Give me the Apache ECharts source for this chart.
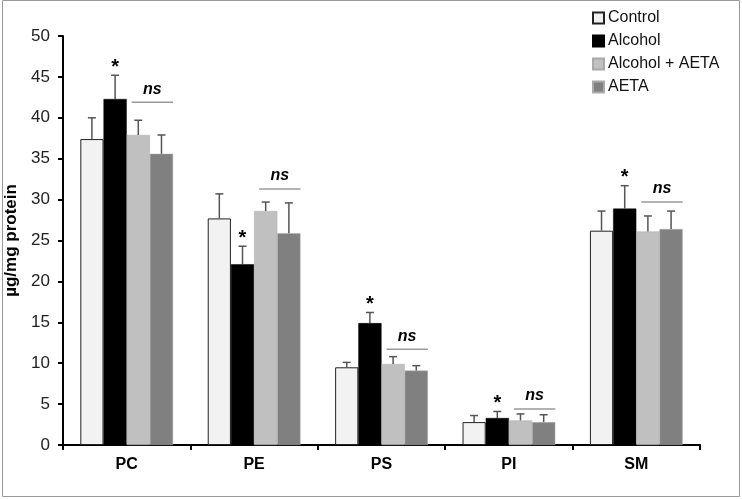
<!DOCTYPE html>
<html><head><meta charset="utf-8">
<script src="https://cdn.jsdelivr.net/npm/echarts@6/dist/echarts.min.js"></script>
<style>html,body{margin:0;padding:0;background:#fff}#c{width:742px;height:499px}</style>
</head><body><div id="c"></div>
<script>
var categories = ['PC', 'PE', 'PS', 'PI', 'SM'];
var seriesNames = ['Control', 'Alcohol', 'Alcohol + AETA', 'AETA'];
var control      = [37.4, 27.7, 9.5, 2.8, 26.2];
var alcohol      = [42.3, 22.1, 14.9, 3.3, 28.9];
var alcoholAeta  = [37.9, 28.6, 9.9, 3.0, 26.1];
var aeta         = [35.6, 25.9, 9.1, 2.8, 26.4];
var controlErr   = [2.6, 3.0, 0.6, 0.8, 2.4];
var alcoholErr   = [2.9, 2.2, 1.3, 0.8, 2.8];
var alcoholAetaErr = [1.8, 1.1, 0.9, 0.8, 1.9];
var aetaErr      = [2.3, 3.7, 0.6, 0.9, 2.2];
var starLabels   = ['*', '*', '*', '*', '*'];
var nsLabels     = ['ns', 'ns', 'ns', 'ns', 'ns'];
var nsLevel      = [41.9, 31.3, 11.7, 4.4, 29.7];
var yTicks = [0, 5, 10, 15, 20, 25, 30, 35, 40, 45, 50];

var means = [control, alcohol, alcoholAeta, aeta];
var errs = [controlErr, alcoholErr, alcoholAetaErr, aetaErr];
var colors = ['#f2f2f2', '#000000', '#c0c0c0', '#808080'];
var BW = 0.182;

var errData = [];
for (var s = 0; s < 4; s++) for (var c = 0; c < categories.length; c++)
  errData.push([c, s, means[s][c], means[s][c] + errs[s][c]]);
var starData = [];
for (var c2 = 0; c2 < categories.length; c2++) starData.push([c2, 1, alcohol[c2] + alcoholErr[c2], starLabels[c2]]);
var nsData = [];
for (var c3 = 0; c3 < categories.length; c3++) nsData.push([c3, nsLevel[c3], nsLabels[c3]]);

function barX(api, cat, s) {
  var bw = api.size([1, 0])[0] * BW;
  return api.coord([cat, 0])[0] + (s - 1.5) * bw;
}

var chart = echarts.init(document.getElementById('c'));
var series = seriesNames.map(function (n, i) {
  return {
    name: n, type: 'bar', data: means[i], barWidth: (BW * 100) + '%', barGap: '0%',
    itemStyle: { color: colors[i], borderColor: i === 0 ? '#222' : (i === 1 ? '#000' : '#aaa'), borderWidth: i === 0 ? 1 : 0.5 },
    emphasis: { disabled: true }
  };
});
series.push({
  type: 'custom', data: errData, z: 10, silent: true,
  renderItem: function (p, api) {
    var cat = api.value(0), s = api.value(1);
    var x = barX(api, cat, s);
    var y0 = api.coord([cat, api.value(2)])[1];
    var y1 = api.coord([cat, api.value(3)])[1];
    var st = { stroke: '#555', lineWidth: 1.5 };
    return { type: 'group', children: [
      { type: 'line', shape: { x1: x, y1: y0, x2: x, y2: y1 }, style: st },
      { type: 'line', shape: { x1: x - 4, y1: y1, x2: x + 4, y2: y1 }, style: st }
    ]};
  }
});
series.push({
  type: 'custom', data: starData, z: 11, silent: true,
  renderItem: function (p, api) {
    var cat = api.value(0), s = api.value(1);
    var x = barX(api, cat, s);
    var y = api.coord([cat, api.value(2)])[1];
    return { type: 'text', style: { x: x, y: y + 2, text: starData[p.dataIndex][3], fill: '#000',
      font: 'bold 20px "Liberation Sans"', textAlign: 'center', textVerticalAlign: 'bottom' } };
  }
});
series.push({
  type: 'custom', data: nsData, z: 11, silent: true,
  renderItem: function (p, api) {
    var cat = api.value(0);
    var bw = api.size([1, 0])[0] * BW;
    var xa = barX(api, cat, 2) - bw / 2 + 5;
    var xb = barX(api, cat, 3) + bw / 2;
    var y = api.coord([cat, api.value(1)])[1];
    return { type: 'group', children: [
      { type: 'line', shape: { x1: xa, y1: y, x2: xb, y2: y }, style: { stroke: '#9a9a9a', lineWidth: 1.5 } },
      { type: 'text', style: { x: (xa + xb) / 2, y: y - 5, text: nsData[p.dataIndex][2], fill: '#000',
        font: 'italic bold 16px "Liberation Sans"', textAlign: 'center', textVerticalAlign: 'bottom' } }
    ]};
  }
});

chart.setOption({
  animation: false,
  textStyle: { fontFamily: 'Liberation Sans' },
  grid: { left: 63, right: 42, top: 36, bottom: 54, containLabel: false, outerBoundsMode: 'none' },
  legend: {
    data: seriesNames, orient: 'vertical', left: 587, top: 5,
    itemWidth: 11, itemHeight: 11, itemGap: 7, icon: 'rect',
    textStyle: { fontSize: 16, color: '#111', fontFamily: 'Liberation Sans', padding: [0, 0, 0, -1] }
  },
  xAxis: {
    type: 'category', data: categories,
    axisLine: { lineStyle: { color: '#000', width: 2 } },
    axisTick: { show: true, alignWithLabel: false, length: 5, inside: false, lineStyle: { color: '#000', width: 2 } },
    axisLabel: { fontSize: 16, fontWeight: 'bold', color: '#000', margin: 12 }
  },
  yAxis: {
    type: 'value', min: 0, max: 50, interval: 5,
    name: 'µg/mg protein', nameLocation: 'middle', nameGap: 38,
    nameTextStyle: { fontSize: 17, fontWeight: 'bold', color: '#000' },
    axisLine: { show: true, lineStyle: { color: '#000', width: 2 } },
    axisTick: { show: true, length: 5, lineStyle: { color: '#000', width: 2 } },
    axisLabel: { fontSize: 17, color: '#222', margin: 13,
      formatter: function (v) { return yTicks.indexOf(v) >= 0 ? String(v) : ''; } },
    splitLine: { show: false }
  },
  graphic: [{ type: 'rect', shape: { x: 2.5, y: 0.5, width: 737, height: 496 },
    style: { fill: 'none', stroke: '#999', lineWidth: 1 }, silent: true }],
  series: series
});
</script></body></html>
